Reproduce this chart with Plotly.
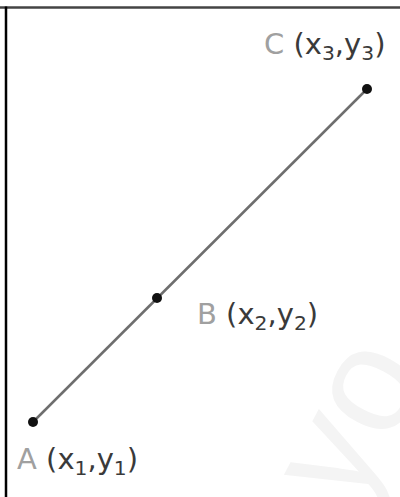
import plotly.graph_objects as go

# Data (pixel-like coordinates of the three collinear points)
point_names = ["A", "B", "C"]
x_vals = [33, 157, 367]
y_vals = [422, 298, 89]
sub_idx = ["1", "2", "3"]

W, H = 400, 497

fig = go.Figure()

# connecting line
fig.add_trace(go.Scatter(
    x=[x_vals[0], x_vals[-1]], y=[y_vals[0], y_vals[-1]],
    mode="lines", line=dict(color="#6e6e6e", width=2.5),
    hoverinfo="skip", showlegend=False))

# points
fig.add_trace(go.Scatter(
    x=x_vals, y=y_vals, mode="markers",
    marker=dict(color="#111111", size=10, symbol="circle"),
    hoverinfo="skip", showlegend=False))

# label positions: (left x, middle y)
label_pos = {"A": (15, 461), "B": (195, 316), "C": (262, 46)}
for name, s in zip(point_names, sub_idx):
    lx, ly = label_pos[name]
    txt = (f"<span style='color:#a0a0a0'>{name}</span> "
           f"(x<sub>{s}</sub>,y<sub>{s}</sub>)")
    fig.add_annotation(x=lx, y=ly, text=txt, showarrow=False,
                       xanchor="left", yanchor="middle",
                       font=dict(family="DejaVu Sans", size=29,
                                 color="#3a3a3a"))

# faint watermark
fig.add_annotation(x=345, y=418, text="yo", showarrow=False, textangle=-62,
                   font=dict(family="Liberation Sans, Arial", size=150,
                             color="#f4f4f4"))

# frame lines (left and top only, as in the cropped figure)
fig.add_shape(type="line", xref="paper", yref="paper", x0=0, x1=1,
              y0=1 - 7.5 / H, y1=1 - 7.5 / H,
              line=dict(color="#444444", width=2.5))
fig.add_shape(type="line", xref="paper", yref="paper", x0=6 / W, x1=6 / W,
              y0=0, y1=1 - 6.5 / H, line=dict(color="#000000", width=2.5))

fig.update_xaxes(range=[0, W], visible=False, fixedrange=True)
fig.update_yaxes(range=[H, 0], visible=False, fixedrange=True)
fig.update_layout(width=W, height=H, margin=dict(l=0, r=0, t=0, b=0),
                  plot_bgcolor="white", paper_bgcolor="white")

fig.write_html("out.html", config={"displayModeBar": False})

# remove the default page margin so the figure sits at the window's corner
with open("out.html", encoding="utf-8") as f:
    html = f.read()
html = html.replace("<head>", "<head><style>html,body{margin:0;padding:0;}</style>", 1)
with open("out.html", "w", encoding="utf-8") as f:
    f.write(html)
